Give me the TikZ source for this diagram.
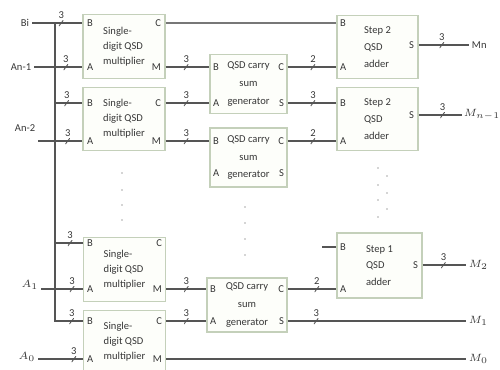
\documentclass[tikz,border=0pt]{standalone}
\usepackage{fontspec}
\setmainfont{Carlito}
\usepackage{tikz}
\usetikzlibrary{positioning,calc}
\definecolor{boxline}{RGB}{196,208,186}
\definecolor{boxfill}{RGB}{253,254,250}
\definecolor{wirec}{RGB}{85,85,85}
\definecolor{txtc}{RGB}{55,55,55}
\definecolor{dotc}{RGB}{170,170,170}
\tikzset{
  unit/.style={rectangle, draw=boxline, fill=boxfill, line width=0.8pt, inner sep=0pt,
               text=txtc},
  mult/.style={unit, minimum width=1.64cm, minimum height=1.27cm, align=left,
               font=\fontsize{6}{8.5}\selectfont},
  gen/.style={unit, minimum width=1.54cm, minimum height=1.18cm, align=center,
              font=\fontsize{6}{10.2}\selectfont},
  add/.style={unit, minimum width=1.62cm, minimum height=1.27cm, align=left,
              font=\fontsize{6}{9.6}\selectfont},
  port/.style={font=\fontsize{6}{6}\selectfont, inner sep=1pt, text=txtc},
  pl/.style={port, anchor=west},
  pr/.style={port, anchor=east},
  io/.style={font=\fontsize{6}{7}\selectfont, inner sep=1.5pt, text=txtc},
  wire/.style={draw=wirec, line width=0.6pt},
  slash/.style={minimum width=0.09cm, minimum height=0.12cm, inner sep=0pt,
                path picture={\draw[wirec, line width=0.5pt]
                  (path picture bounding box.south west) -- (path picture bounding box.north east);}},
  bus/.style={slash, label={[port, inner sep=0.5pt, label distance=0pt]above:#1}}
}
\begin{document}
\begin{tikzpicture}[x=0.02cm, y=-0.02cm]
  \useasboundingbox (0,0) rectangle (500,369);

  \node[mult] (m1) at (124,46.5) {Single-\\digit QSD\\multiplier};
  \node[mult] (m2) at (124,119) {Single-\\digit QSD\\multiplier};
  \node[mult] (m3) at (124.5,269.5) {Single-\\digit QSD\\multiplier};
  \node[mult] (m4) at (124.5,342) {Single-\\digit QSD\\multiplier};
  \node[gen] (g1) at (248.5,84) {QSD carry\\sum\\generator};
  \node[gen] (g2) at (248.5,157.5) {QSD carry\\sum\\generator};
  \node[gen, minimum width=1.6cm, minimum height=1.08cm] (g3) at (247,305) {QSD carry\\sum\\generator};
  \node[add] (s1) at (377.5,47) {Step 2\\QSD\\adder};
  \node[add] (s2) at (377.5,119) {Step 2\\QSD\\adder};
  \node[add, minimum width=1.7cm, minimum height=1.3cm] (s3) at (379.5,265.5) {Step 1\\QSD\\adder};

  \node[pl] (m1B) at (85,23) {B}; \node[pl] (m1A) at (85,67) {A};
  \node[pr] (m1C) at (163,23) {C}; \node[pr] (m1M) at (163,67) {M};
  \node[pl] (m2B) at (85,103) {B}; \node[pl] (m2A) at (85,141) {A};
  \node[pr] (m2C) at (163,103) {C}; \node[pr] (m2M) at (163,141) {M};
  \node[pl] (m3B) at (85,243) {B}; \node[pl] (m3A) at (85,289) {A};
  \node[pr] (m3C) at (164,243) {C}; \node[pr] (m3M) at (164,289) {M};
  \node[pl] (m4B) at (85,321) {B}; \node[pl] (m4A) at (85,359) {A};
  \node[pr] (m4C) at (164,321) {C}; \node[pr] (m4M) at (164,359) {M};
  \node[pl] (g1B) at (211,67) {B}; \node[pl] (g1A) at (211,103) {A};
  \node[pr] (g1C) at (286,67) {C}; \node[pr] (g1S) at (286,103) {S};
  \node[pl] (g2B) at (211,141) {B}; \node[pl] (g2A) at (211,173) {A};
  \node[pr] (g2C) at (286,141) {C}; \node[pr] (g2S) at (286,173) {S};
  \node[pl] (g3B) at (208,289) {B}; \node[pl] (g3A) at (208,321) {A};
  \node[pr] (g3C) at (286,289) {C}; \node[pr] (g3S) at (286,321) {S};
  \node[pl] (s1B) at (338,23) {B}; \node[pl] (s1A) at (338,67) {A};
  \node[pr] (s1S) at (416,45) {S};
  \node[pl] (s2B) at (338,103) {B}; \node[pl] (s2A) at (338,141) {A};
  \node[pr] (s2S) at (416,115) {S};
  \node[pl] (s3B) at (338,247) {B}; \node[pl] (s3A) at (338,289) {A};
  \node[pr] (s3S) at (420,265) {S};

  \node[io] (bi) at (25,23) {Bi};
  \node[io] (an1) at (21,67) {An-1};
  \node[io] (an2) at (25,128) {An-2};
  \node[io] (a1) at (30,285) {$A_1$};
  \node[io] (a0) at (27,357) {$A_0$};
  \node[io, anchor=west] (mn) at (469,45) {Mn};
  \node[io, anchor=west, inner sep=0.8pt] (mn1) at (462,115) {$M_{n-1}$};
  \node[io, anchor=west] (m2o) at (466,265) {$M_2$};
  \node[io, anchor=west] (m1o) at (466,321) {$M_1$};
  \node[io, anchor=west] (m0o) at (466,359) {$M_0$};
  \coordinate (j1) at (55,23);
  \coordinate (s3in) at (322,247);

  \draw[wire] (bi.east) -- node[bus=3, pos=.58]{} (m1.west |- m1B);
  \draw[wire] (an1.east |- m1A) -- node[bus=3, pos=.66]{} (m1.west |- m1A);
  \draw[wire] (j1 |- m2B) -- node[bus=3, pos=.43]{} (m2.west |- m2B);
  \draw[wire] (an2.south east |- m2A) -- node[bus=3, pos=.67]{} (m2.west |- m2A);
  \draw[wire] (j1 |- m3B) -- node[bus=3, pos=.54]{} (m3.west |- m3B);
  \draw[wire] (a1.east |- m3A) -- node[bus=3, pos=.74]{} (m3.west |- m3A);
  \draw[wire] (j1) -- (j1 |- m4B) -- node[bus=3, pos=.6]{} (m4.west |- m4B);
  \draw[wire] (a0.east |- m4A) -- node[bus=3, pos=.8]{} (m4.west |- m4A);

  \draw[wire, line width=0.9pt, draw=wirec!80] (m1.east |- m1C) -- (s1.west |- s1B);
  \draw[wire] (m1.east |- m1M) -- node[bus=3, pos=.47]{} (g1.west |- g1B);
  \draw[wire] (m2.east |- m2C) -- node[bus=3, pos=.47]{} (g1.west |- g1A);
  \draw[wire] (m2.east |- m2M) -- node[bus=3, pos=.47]{} (g2.west |- g2B);
  \draw[wire] (g1.east |- g1C) -- node[bus=2, pos=.52]{} (s1.west |- s1A);
  \draw[wire] (g1.east |- g1S) -- node[bus=3, pos=.52]{} (s2.west |- s2B);
  \draw[wire] (g2.east |- g2C) -- node[bus=2, pos=.52]{} (s2.west |- s2A);
  \draw[wire] (s1.east |- s1S) -- node[bus=3, pos=.46]{} (mn.west);
  \draw[wire] (s2.east |- s2S) -- node[bus=3, pos=.55]{} (mn1.west);

  \draw[wire] (m3.east |- m3M) -- node[bus=3, pos=.5]{} (g3.west |- g3B);
  \draw[wire] (m4.east |- m4C) -- node[bus=3, pos=.5]{} (g3.west |- g3A);
  \draw[wire] (g3.east |- g3C) -- node[bus=2, pos=.6]{} (s3.west |- s3A);
  \draw[wire] (s3in) -- (s3.west |- s3B);
  \draw[wire] (s3.east |- s3S) -- node[bus=3, pos=.48]{} (m2o.west);
  \draw[wire] (g3.east |- g3S) -- node[bus=3, pos=.16]{} (m1o.west);
  \draw[wire] (m4.east |- m4M) -- (m0o.west);

  \foreach \y in {173,190,205,220} \fill[dotc] (122,\y) circle (0.5pt);
  \foreach \y in {207,223,239,255} \fill[dotc] (245,\y) circle (0.5pt);
  \foreach \y in {168,185,200,217} \fill[dotc] (378,\y) circle (0.5pt);
  \foreach \y in {176,193,209} \fill[dotc] (387,\y) circle (0.5pt);
\end{tikzpicture}
\end{document}
